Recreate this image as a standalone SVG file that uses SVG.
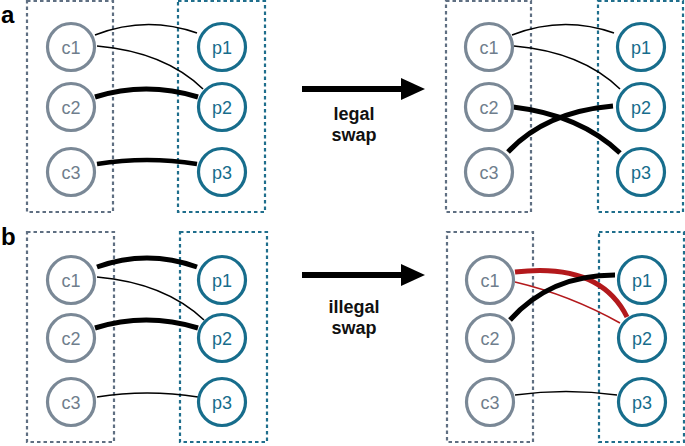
<svg xmlns="http://www.w3.org/2000/svg" width="685" height="446" viewBox="0 0 685 446">
<style>
.bg{fill:#fff}
.boxc{fill:none;stroke:#5f6f82;stroke-width:2.2;stroke-dasharray:3.5 3}
.boxp{fill:none;stroke:#1f6e8c;stroke-width:2.2;stroke-dasharray:3.5 3}
.nc circle{fill:#fff;stroke:#7a8896;stroke-width:3.2}
.np circle{fill:#fff;stroke:#176d8c;stroke-width:3.2}
.nc text{fill:#6f7e8d;font-family:"Liberation Sans",Arial,sans-serif;font-size:18px;text-anchor:middle}
.np text{fill:#176d8c;font-family:"Liberation Sans",Arial,sans-serif;font-size:18px;text-anchor:middle}
.e{fill:none;stroke:#000;stroke-linecap:butt}
.thin{stroke-width:1.6}
.thick{stroke-width:5}
.red{stroke:#b3191c}
.lbl{font-family:"Liberation Sans",Arial,sans-serif;font-weight:bold;font-size:18px;text-anchor:middle;fill:#111}
.pl{font-family:"Liberation Sans",Arial,sans-serif;font-weight:bold;font-size:24px;fill:#000}
</style>
<rect class="bg" x="0" y="0" width="685" height="446"/>

<text class="pl" x="1" y="23">a</text>
<text class="pl" x="1" y="245">b</text>

<g id="boxes">
<rect class="boxc" x="27" y="1" width="86" height="211"/>
<rect class="boxp" x="178" y="1" width="87" height="211"/>
<rect class="boxc" x="446" y="1" width="85" height="211"/>
<rect class="boxp" x="598" y="1" width="85" height="211"/>
<rect class="boxc" x="27" y="232" width="87" height="210"/>
<rect class="boxp" x="180" y="232" width="87" height="210"/>
<rect class="boxc" x="447" y="232" width="86" height="210"/>
<rect class="boxp" x="599" y="232" width="85" height="210"/>
</g>

<g id="connectors">
<!-- panel a left -->
<path class="e thin" d="M95,35 Q146,15 197,33"/>
<path class="e thin" d="M97,46 Q165,52 203,89"/>
<path class="e thick" d="M95,97 Q146,81 198,97"/>
<path class="e thick" d="M97,164 Q147,156 197,164" style="stroke-width:4.5"/>
<!-- panel a right -->
<path class="e thin" d="M512,35 Q563,15 614,33"/>
<path class="e thin" d="M514,46 Q582,52 620,89"/>
<path class="e thick" d="M513,107 Q580,115 620,153"/>
<path class="e thick" d="M508,152 Q545,112 613,106"/>
<!-- panel b left -->
<path class="e thick" d="M97,267 Q147,249 197,267"/>
<path class="e thin" d="M97,277 Q165,283 204,320"/>
<path class="e thick" d="M95,328 Q146,312 198,328"/>
<path class="e thin" d="M97,397 Q147,389 198,397"/>
<!-- panel b right -->
<path class="e thin red" d="M515,282 Q570,295 620,323"/>
<path class="e thick red" d="M515,272 Q600,262 627,317"/>
<path class="e thick" d="M510,320 Q550,275 615,275"/>
<path class="e thin" d="M515,395 Q566,388 617,395"/>
<!-- arrows -->
<path d="M302,89 H403" stroke="#000" stroke-width="6" fill="none"/>
<path d="M401,78 L425,89 L401,100 Z" fill="#000"/>
<path d="M302,275 H403" stroke="#000" stroke-width="6" fill="none"/>
<path d="M401,264 L425,275 L401,286 Z" fill="#000"/>
</g>

<text class="lbl" x="354" y="120">legal</text>
<text class="lbl" x="354" y="141">swap</text>
<text class="lbl" x="354" y="313">illegal</text>
<text class="lbl" x="354" y="334">swap</text>

<!-- panel a left nodes -->
<g id="a1-c1" class="nc"><circle cx="71" cy="47" r="23.5"/><text x="71" y="53.5">c1</text></g>
<g id="a1-c2" class="nc"><circle cx="71" cy="107" r="23.5"/><text x="71" y="113.5">c2</text></g>
<g id="a1-c3" class="nc"><circle cx="71" cy="172" r="23.5"/><text x="71" y="178.5">c3</text></g>
<g id="a1-p1" class="np"><circle cx="222" cy="47" r="23.5"/><text x="222" y="53.5">p1</text></g>
<g id="a1-p2" class="np"><circle cx="222" cy="107" r="23.5"/><text x="222" y="113.5">p2</text></g>
<g id="a1-p3" class="np"><circle cx="222" cy="172" r="23.5"/><text x="222" y="178.5">p3</text></g>
<!-- panel a right nodes -->
<g id="a2-c1" class="nc"><circle cx="489" cy="47" r="23.5"/><text x="489" y="53.5">c1</text></g>
<g id="a2-c2" class="nc"><circle cx="489" cy="107" r="23.5"/><text x="489" y="113.5">c2</text></g>
<g id="a2-c3" class="nc"><circle cx="489" cy="172" r="23.5"/><text x="489" y="178.5">c3</text></g>
<g id="a2-p1" class="np"><circle cx="641" cy="47" r="23.5"/><text x="641" y="53.5">p1</text></g>
<g id="a2-p2" class="np"><circle cx="641" cy="107" r="23.5"/><text x="641" y="113.5">p2</text></g>
<g id="a2-p3" class="np"><circle cx="641" cy="172" r="23.5"/><text x="641" y="178.5">p3</text></g>
<!-- panel b left nodes -->
<g id="b1-c1" class="nc"><circle cx="71" cy="280" r="23.5"/><text x="71" y="286.5">c1</text></g>
<g id="b1-c2" class="nc"><circle cx="71" cy="338" r="23.5"/><text x="71" y="344.5">c2</text></g>
<g id="b1-c3" class="nc"><circle cx="71" cy="402" r="23.5"/><text x="71" y="408.5">c3</text></g>
<g id="b1-p1" class="np"><circle cx="222" cy="280" r="23.5"/><text x="222" y="286.5">p1</text></g>
<g id="b1-p2" class="np"><circle cx="222" cy="338" r="23.5"/><text x="222" y="344.5">p2</text></g>
<g id="b1-p3" class="np"><circle cx="222" cy="402" r="23.5"/><text x="222" y="408.5">p3</text></g>
<!-- panel b right nodes -->
<g id="b2-c1" class="nc"><circle cx="490" cy="280" r="23.5"/><text x="490" y="286.5">c1</text></g>
<g id="b2-c2" class="nc"><circle cx="490" cy="338" r="23.5"/><text x="490" y="344.5">c2</text></g>
<g id="b2-c3" class="nc"><circle cx="490" cy="402" r="23.5"/><text x="490" y="408.5">c3</text></g>
<g id="b2-p1" class="np"><circle cx="642" cy="280" r="23.5"/><text x="642" y="286.5">p1</text></g>
<g id="b2-p2" class="np"><circle cx="642" cy="338" r="23.5"/><text x="642" y="344.5">p2</text></g>
<g id="b2-p3" class="np"><circle cx="642" cy="402" r="23.5"/><text x="642" y="408.5">p3</text></g>
</svg>
